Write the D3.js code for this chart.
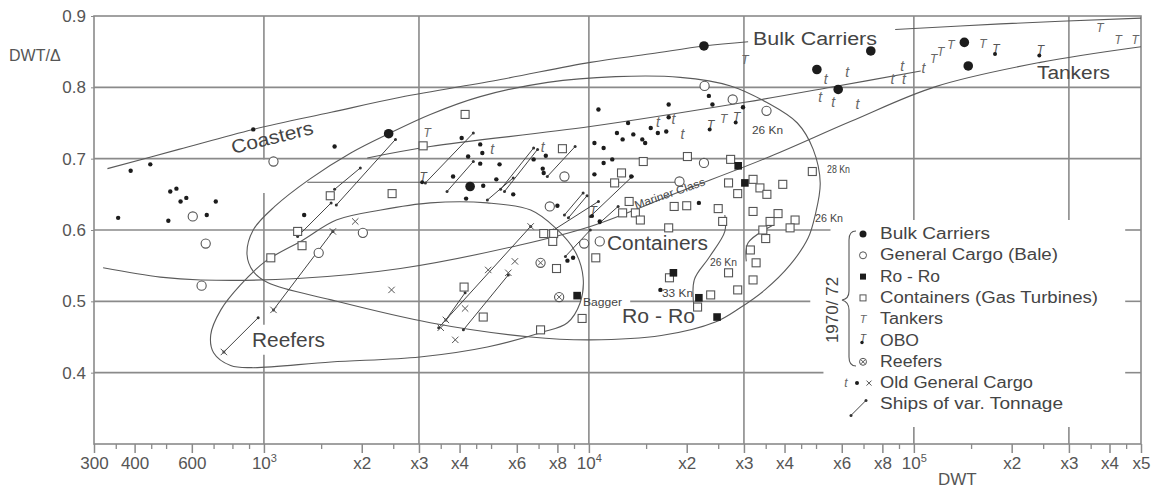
<!DOCTYPE html>
<html>
<head>
<meta charset="utf-8">
<script src="https://cdn.jsdelivr.net/npm/d3@7"></script>
<style>
  body { margin: 0; background: #fff; }
  text { font-family: "Liberation Sans", Arial, sans-serif; }
</style>
</head>
<body>
<script>
// ---- data (DWT, DWT/displacement) ----
var bulkCarriers = [[2420,.735],[4310,.661],[22600,.858],[50300,.825],[58500,.797],[73700,.851],[143000,.863],[147000,.830]];
var generalCargo = [[604,.619],[662,.581],[643,.522],[1070,.696],[1474,.568],[2016,.596],[7580,.633],[8410,.675],
  [22700,.802],[27700,.783],[35200,.767],[22600,.694],[19000,.668],[9670,.581],[10800,.584]];
var roRo = [[9200,.508],[18200,.540],[21800,.505],[24800,.478],[28800,.690],[30200,.666]];
var containers = [[1050,.561],[1270,.598],[1310,.578],[1600,.648],[2480,.651],[3090,.718],[4160,.762],[4130,.520],
  [4730,.478],[7260,.595],[7790,.595],[7740,.584],[7950,.546],[9530,.476],[7100,.460],[10500,.561],[8290,.714],
  [14700,.696],[12600,.680],[12000,.666],[13300,.640],[12700,.624],[13900,.624],[14400,.614],[18300,.633],[20000,.634],
  [25000,.630],[25800,.612],[17600,.603],[20100,.703],[27300,.699],[26900,.666],[28700,.651],[32000,.671],[33600,.659],
  [35300,.650],[32000,.626],[34300,.600],[35000,.588],[31400,.572],[32700,.554],[32000,.530],[28700,.516],[26900,.540],
  [23700,.509],[21600,.492],[17700,.533],[48700,.682],[39500,.664],[38200,.623],[36100,.612],[43100,.614],[41600,.603]];
var tankers = [[3180,.736],[26000,.755],[30200,.839],[115000,.840],[121000,.849],[130000,.860],[163000,.861],
  [374000,.883],[425000,.867],[480000,.867]];
var obo = [[3090,.671],[10300,.624],[23700,.745],[28500,.755],[179000,.851],[245000,.849]];
var reefers = [[7100,.554],[8100,.506]];
var oldCargoT = [[5040,.713],[7210,.717],[16300,.752],[18200,.755],[19400,.734],[53500,.811],[62400,.821],[51500,.786],
  [56500,.780],[67100,.776],[92000,.830],[85900,.811],[93300,.811],[107000,.827]];
var oldCargoDot = [[356,.617],[389,.683],[447,.692],[515,.654],[538,.658],[554,.640],[577,.645],[711,.640],[508,.613],
  [667,.621],[927,.741],[1650,.717],[1330,.621],
  [4060,.729],[4630,.720],[4700,.708],[4250,.703],[4630,.693],[5310,.692],[3820,.675],[5190,.671],[4730,.662],[5850,.650],
  [4190,.644],[6760,.699],[7370,.704],[7210,.686],[7260,.680],[8000,.634],[8940,.561],[8590,.557],
  [10700,.769],[12200,.736],[12700,.727],[13200,.750],[13700,.734],[14600,.727],[14900,.722],[15500,.743],[16300,.736],
  [17300,.738],[17600,.776],[17600,.758],[23400,.788],[24000,.776],[29800,.772],[10400,.722],[11100,.715],[10400,.678],
  [11100,.694],[11800,.699],[13500,.675],[21800,.638],[10800,.612],[16600,.516]];
var oldCargoX = [[753,.429],[1070,.488],[1910,.612],[2470,.516],[1630,.598],[3500,.463],[3630,.474],[3880,.446],
  [4160,.490],[4900,.544],[5650,.540],[5920,.556],[6620,.605]];
var shipsVarTonnage = [
  [[753,.429],[960,.477]], [[1070,.488],[1630,.598]], [[1270,.591],[1610,.638]], [[1650,.657],[1980,.687]],
  [[1670,.635],[2540,.727]], [[3140,.666],[4410,.736]], [[3660,.654],[4410,.696]], [[4870,.642],[5850,.673]],
  [[5350,.657],[6760,.715]], [[5500,.654],[6950,.713]], [[7450,.675],[9070,.717]], [[8410,.621],[9600,.652]],
  [[8650,.617],[9870,.648]], [[7790,.600],[10700,.640]], [[10100,.619],[13600,.675]], [[10800,.610],[12300,.633]],
  [[3630,.474],[4160,.512]], [[4110,.460],[5650,.537]], [[3450,.463],[6620,.605]], [[8470,.563],[10100,.600]]];

// boundary curves
var upperBandA = [[330,.686],[547,.713],[927,.741],[1610,.765],[2630,.786],[5350,.811],[10100,.835],[15500,.847],[22600,.858],[30900,.864]];
var upperBandB = [[87600,.881],[185000,.889],[500000,.897]];
var lowerBand = [[320,.547],[480,.534],[640,.530],[1270,.532],[2630,.546],[6140,.579],[10100,.605],[19100,.654],
  [36100,.703],[63800,.752],[116700,.801],[245000,.835],[500000,.857]];
var middleBand = [[2080,.701],[3250,.717],[10100,.745],[30200,.779],[55400,.800],[105000,.823]];
var loopGeneral = [[887,.566],[927,.600],[1080,.633],[1380,.671],[1850,.708],[2420,.735],[3250,.762],[4630,.787],
  [7470,.807],[12100,.815],[19100,.814],[27300,.802],[35200,.779],[43800,.750],[49000,.713],[51500,.666],[49700,.621],
  [47300,.589],[41600,.551],[34800,.516],[29200,.491],[24500,.471],[16700,.452],[10100,.446],[6620,.450],[3250,.470],
  [1610,.502],[1030,.526],[927,.542]];
var loopReefers = [[686,.453],[737,.488],[847,.523],[1010,.556],[1320,.586],[1670,.614],[2290,.628],[3250,.638],
  [4870,.638],[6620,.628],[7890,.603],[9070,.570],[9600,.533],[9400,.498],[8590,.470],[7100,.456],[4870,.436],
  [3020,.422],[1610,.415],[918,.407],[790,.410],[700,.428]];
var kn26Left = [[26200,.621],[26200,.598],[23400,.561],[21100,.530],[21100,.488]];
var kn26Right = [[36600,.606],[30900,.582],[30500,.556]];
var line067 = [[1360,.667],[19100,.667]];

// axes
var xMajorTicks = [300,400,600,1000,2000,3000,4000,6000,8000,10000,20000,30000,40000,60000,80000,100000,200000,300000,400000,500000];
var xTickLabels = ["300","400","600","10^3","x2","x3","x4","x6","x8","10^4","x2","x3","x4","x6","x8","10^5","x2","x3","x4","x5"];
var xMinorTicks = [350,450,500,700,800,900,1500,2500,3500,4500,5000,7000,9000,15000,25000,35000,45000,50000,70000,90000,
  150000,250000,350000,450000];
var yTickValues = [0.4,0.5,0.6,0.7,0.8,0.9];
var hGrid = [[0.8,[[300,500000]]],[0.7,[[300,500000]]],[0.6,[[300,55400],[447000,500000]]],
  [0.5,[[300,9400],[13400,48000],[447000,500000]]],[0.4,[[300,52700],[447000,500000]]]];
var vGrid = [[1000,[[0.3,0.425],[0.467,0.652],[0.699,0.9]]],[3000,[[0.3,0.9]]],[10000,[[0.3,0.9]]],[30000,[[0.3,0.9]]],
  [100000,[[0.3,0.324],[0.614,0.9]]],[300000,[[0.3,0.324],[0.614,0.9]]]];

var legendItems = ["Bulk   Carriers","General  Cargo  (Bale)","Ro - Ro","Containers   (Gas Turbines)","Tankers","OBO","Reefers",
  "Old  General Cargo","Ships of  var.  Tonnage"];

// ---- drawing ----
var W = 1156, H = 490;
var svg = d3.select("body").append("svg").attr("width", W).attr("height", H);
var x = d3.scaleLog().domain([300, 500000]).range([94, 1141]);
var y = d3.scaleLinear().domain([0.3, 0.9]).range([444, 16]);

var gridColor = "#8a8a8a", curveColor = "#5a5a5a", ink = "#1c1c1c";

// grid
hGrid.forEach(function(h) {
  h[1].forEach(function(s) {
    svg.append("line").attr("x1", x(s[0])).attr("x2", x(s[1])).attr("y1", y(h[0])).attr("y2", y(h[0]))
      .attr("stroke", gridColor).attr("stroke-width", 1.6);
  });
});
vGrid.forEach(function(v) {
  v[1].forEach(function(s) {
    svg.append("line").attr("x1", x(v[0])).attr("x2", x(v[0])).attr("y1", y(s[0])).attr("y2", y(s[1]))
      .attr("stroke", gridColor).attr("stroke-width", 1.6);
  });
});
// frame
svg.append("rect").attr("x", x(300)).attr("y", y(0.9)).attr("width", x(500000) - x(300)).attr("height", y(0.3) - y(0.9))
  .attr("fill", "none").attr("stroke", gridColor).attr("stroke-width", 1.6);

// axes
var gx = svg.append("g").attr("transform", "translate(0," + y(0.3) + ")")
  .call(d3.axisBottom(x).tickValues(xMajorTicks).tickSize(9).tickPadding(4).tickFormat(function(d, i) { return xTickLabels[i]; }));
gx.select(".domain").remove();
gx.selectAll("line").attr("stroke", gridColor).attr("stroke-width", 1.5);
gx.attr("font-size", 17).attr("font-family", '"Liberation Sans", Arial, sans-serif');
gx.selectAll("text").attr("fill", "#555").each(function(d, i) {
  var lab = xTickLabels[i];
  if (lab.indexOf("10^") === 0) {
    var t = d3.select(this).text("10");
    t.append("tspan").attr("dy", -7).attr("font-size", 11).text(lab.slice(3));
  }
});
var gxm = svg.append("g").attr("transform", "translate(0," + y(0.3) + ")")
  .call(d3.axisBottom(x).tickValues(xMinorTicks).tickSize(5).tickFormat(""));
gxm.select(".domain").remove();
gxm.selectAll("line").attr("stroke", gridColor).attr("stroke-width", 1.3);

var gy = svg.append("g").attr("transform", "translate(" + x(300) + ",0)")
  .call(d3.axisLeft(y).tickValues(yTickValues).tickSize(3).tickPadding(5).tickFormat(d3.format(".1f")));
gy.select(".domain").remove();
gy.selectAll("line").attr("stroke", gridColor);
gy.attr("font-size", 17).attr("font-family", '"Liberation Sans", Arial, sans-serif');
gy.selectAll("text").attr("fill", "#555");

svg.append("text").attr("x", 9).attr("y", 61).attr("font-size", 16).attr("fill", "#555").text("DWT/\u0394");
svg.append("text").attr("x", 938).attr("y", 485).attr("font-size", 17).attr("fill", "#555").text("DWT");

// curves
var openLine = d3.line().x(function(d) { return x(d[0]); }).y(function(d) { return y(d[1]); }).curve(d3.curveCatmullRom.alpha(0.5));
var closedLine = d3.line().x(function(d) { return x(d[0]); }).y(function(d) { return y(d[1]); }).curve(d3.curveCatmullRomClosed.alpha(0.5));
[upperBandA, upperBandB, lowerBand, middleBand, kn26Left, kn26Right, line067].forEach(function(c) {
  svg.append("path").attr("d", openLine(c)).attr("fill", "none").attr("stroke", curveColor).attr("stroke-width", 1.1);
});
[loopGeneral, loopReefers].forEach(function(c) {
  svg.append("path").attr("d", closedLine(c)).attr("fill", "none").attr("stroke", curveColor).attr("stroke-width", 1.1);
});

// ships of various tonnage
var ships = svg.append("g");
shipsVarTonnage.forEach(function(s) {
  ships.append("line").attr("x1", x(s[0][0])).attr("y1", y(s[0][1])).attr("x2", x(s[1][0])).attr("y2", y(s[1][1]))
    .attr("stroke", "#444").attr("stroke-width", 1);
  s.forEach(function(p) {
    ships.append("circle").attr("cx", x(p[0])).attr("cy", y(p[1])).attr("r", 1.5).attr("fill", "#333");
  });
});

// marker helpers
function xMark(g, cx, cy, s) {
  g.append("path").attr("d", "M" + (cx - s) + "," + (cy - s) + "L" + (cx + s) + "," + (cy + s) + "M" + (cx - s) + "," + (cy + s) + "L" + (cx + s) + "," + (cy - s))
    .attr("stroke", "#555").attr("stroke-width", 1).attr("fill", "none");
}
function tGlyph(g, cx, cy, ch, size, col) {
  g.append("text").attr("x", cx).attr("y", cy).attr("text-anchor", "middle").attr("dominant-baseline", "central")
    .attr("font-family", '"DejaVu Serif", serif').attr("font-style", "italic").attr("font-size", size)
    .attr("fill", col).text(ch);
}
var marks = svg.append("g");
containers.forEach(function(d) {
  marks.append("rect").attr("x", x(d[0]) - 4).attr("y", y(d[1]) - 4).attr("width", 8).attr("height", 8)
    .attr("fill", "#fff").attr("stroke", "#555").attr("stroke-width", 1.1);
});
generalCargo.forEach(function(d) {
  marks.append("circle").attr("cx", x(d[0])).attr("cy", y(d[1])).attr("r", 4.6)
    .attr("fill", "#fff").attr("stroke", "#555").attr("stroke-width", 1.1);
});
reefers.forEach(function(d) {
  marks.append("circle").attr("cx", x(d[0])).attr("cy", y(d[1])).attr("r", 4.6)
    .attr("fill", "#fff").attr("stroke", "#555").attr("stroke-width", 1.1);
  xMark(marks, x(d[0]), y(d[1]), 2.6);
});
roRo.forEach(function(d) {
  marks.append("rect").attr("x", x(d[0]) - 3.8).attr("y", y(d[1]) - 3.8).attr("width", 7.6).attr("height", 7.6).attr("fill", ink);
});
bulkCarriers.forEach(function(d) {
  marks.append("circle").attr("cx", x(d[0])).attr("cy", y(d[1])).attr("r", 4.8).attr("fill", ink);
});
oldCargoDot.forEach(function(d) {
  marks.append("circle").attr("cx", x(d[0])).attr("cy", y(d[1])).attr("r", 2.2).attr("fill", ink);
});
oldCargoX.forEach(function(d) { xMark(marks, x(d[0]), y(d[1]), 3.2); });
oldCargoT.forEach(function(d) { tGlyph(marks, x(d[0]), y(d[1]), "t", 14, "#666"); });
tankers.forEach(function(d) { tGlyph(marks, x(d[0]), y(d[1]), "T", 12, "#666"); });
obo.forEach(function(d) {
  tGlyph(marks, x(d[0]), y(d[1]) - 2, "T", 12, "#555");
  marks.append("circle").attr("cx", x(d[0]) - 1).attr("cy", y(d[1]) + 3).attr("r", 2).attr("fill", ink);
});

// region labels
function label(txt, px, py, size, len, rot) {
  var t = svg.append("text").attr("x", px).attr("y", py).attr("font-size", size).attr("fill", "#444").text(txt);
  if (len) t.attr("textLength", len).attr("lengthAdjust", "spacingAndGlyphs");
  if (rot) t.attr("transform", "rotate(" + rot + "," + px + "," + py + ")");
  return t;
}
label("Bulk Carriers", 753, 45, 18, 124);
label("Tankers", 1037, 79, 18, 73);
label("Coasters", 233, 154, 19, 84, -14);
label("Containers", 607, 250, 20, 101);
label("Ro - Ro", 622, 323, 20, 73);
label("Reefers", 252, 347, 20, 73);
label("Mariner Class", 636, 209, 11, 74, -19);
label("26 Kn", 752, 134, 10.5, 31);
label("28 Kn", 827, 173, 10.5, 23);
label("26 Kn", 815, 222, 10.5, 28);
label("26 Kn", 710, 266, 10.5, 27);
label("33 Kn", 662, 297, 10.5, 31);
label("Bagger", 583, 306, 10.5, 39);

// legend
var leg = svg.append("g");
var legLens = [110, 178, 60, 218, 63, 39, 62, 153, 183];
legendItems.forEach(function(txt, i) {
  var by = 239 + 21.3 * i;
  leg.append("text").attr("x", 880).attr("y", by).attr("font-size", 16).attr("fill", "#444")
    .attr("textLength", legLens[i]).attr("lengthAdjust", "spacingAndGlyphs").text(txt);
  var cy = by - 5, cx = 863;
  if (i === 0) leg.append("circle").attr("cx", cx).attr("cy", cy).attr("r", 3.5).attr("fill", ink);
  if (i === 1) leg.append("circle").attr("cx", cx).attr("cy", cy).attr("r", 3.5).attr("fill", "#fff").attr("stroke", "#555");
  if (i === 2) leg.append("rect").attr("x", cx - 3).attr("y", cy - 3).attr("width", 6).attr("height", 6).attr("fill", ink);
  if (i === 3) leg.append("rect").attr("x", cx - 3).attr("y", cy - 3).attr("width", 6).attr("height", 6).attr("fill", "#fff").attr("stroke", "#555");
  if (i === 4) tGlyph(leg, cx, cy, "T", 11, "#666");
  if (i === 5) { tGlyph(leg, cx, cy - 2, "T", 10, "#555"); leg.append("circle").attr("cx", cx - 1).attr("cy", cy + 2).attr("r", 1.7).attr("fill", ink); }
  if (i === 6) {
    leg.append("circle").attr("cx", cx).attr("cy", cy).attr("r", 3.5).attr("fill", "#fff").attr("stroke", "#555");
    xMark(leg, cx, cy, 2);
  }
  if (i === 7) {
    tGlyph(leg, 846, cy, "t", 12, "#666");
    leg.append("circle").attr("cx", 857).attr("cy", cy).attr("r", 2).attr("fill", ink);
    xMark(leg, 869, cy, 2.5);
  }
  if (i === 8) {
    leg.append("line").attr("x1", 851).attr("y1", by + 6).attr("x2", 866).attr("y2", by - 9).attr("stroke", "#444");
    leg.append("circle").attr("cx", 851).attr("cy", by + 6).attr("r", 1.5).attr("fill", "#333");
    leg.append("circle").attr("cx", 866).attr("cy", by - 9).attr("r", 1.5).attr("fill", "#333");
  }
});
leg.append("path").attr("d", "M856,231 Q849,231 849,240 L849,291 Q849,299 842,300 Q849,302 849,310 L849,357 Q849,366 856,366")
  .attr("fill", "none").attr("stroke", "#555").attr("stroke-width", 1.1);
leg.append("text").attr("transform", "translate(838,310) rotate(-90)").attr("text-anchor", "middle")
  .attr("font-size", 17).attr("fill", "#444").text("1970/ 72");
</script>
</body>
</html>
